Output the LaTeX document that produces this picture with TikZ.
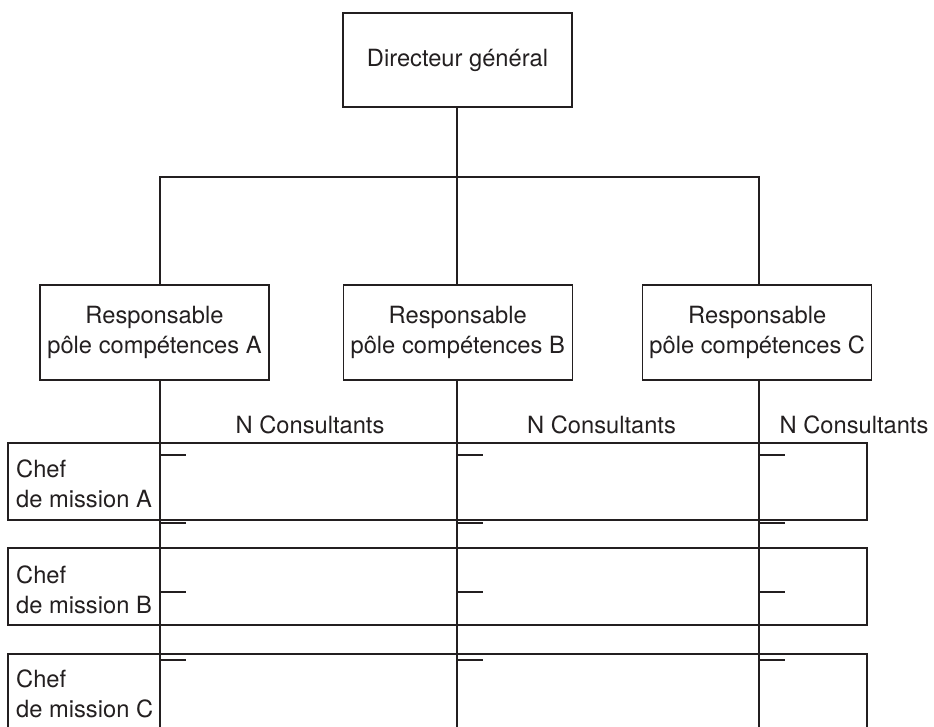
\documentclass[tikz,border=0pt]{standalone}
\usepackage{fontspec}
\setmainfont{TeX Gyre Heros}
\definecolor{ink}{HTML}{231F20}
\begin{document}
\begin{tikzpicture}[x=1pt,y=-1pt,
  every node/.style={font=\fontsize{23.7}{30}\selectfont, text=ink},
  line/.style={draw=ink, line width=1.1pt},
  orgbox/.style={draw=ink, line width=1.1pt, fill=white, inner sep=0pt, align=center, minimum width=229pt, minimum height=94pt},
  rowbox/.style={draw=ink, line width=1.1pt, inner sep=0pt, minimum width=859pt},
  chef/.style={anchor=base west, align=left, inner sep=0pt},
  cons/.style={anchor=base, inner sep=0pt},
  tick/.style={draw=ink, line width=1.1pt}]
\clip (0,0) rectangle (934,726);
\useasboundingbox (0,0) rectangle (934,726);
% top
\node[orgbox] (dg) at (457.5,60) {Directeur général};
% responsables
\node[orgbox, minimum height=95pt] (rA) at (154.5,332.5) {Responsable\\pôle compétences A};
\node[orgbox, minimum height=95pt] (rB) at (457.75,332.5) {Responsable\\pôle compétences B};
\node[orgbox, minimum height=95pt] (rC) at (757.25,332.5) {Responsable\\pôle compétences C};
% branch coordinates
\coordinate (hA) at (160,177);
\coordinate (hB) at (457,177);
\coordinate (hC) at (759,177);
\coordinate (eA) at (160,740);
\coordinate (eB) at (457,740);
\coordinate (eC) at (759,740);
% mission rows
\node[rowbox, minimum height=77pt] (rowA) at (437.5,481.5) {};
\node[rowbox, minimum height=77pt] (rowB) at (437.5,586.5) {};
\node[rowbox, minimum height=90pt] (rowC) at (437.5,699) {};
\node[chef] (cA) at (16,507) {Chef\\de mission A};
\node[chef] (cB) at (16,613) {Chef\\de mission B};
\node[chef] (cC) at (16,717) {Chef\\de mission C};
% consultants labels
\node[cons] (nA) at (310,433) {N Consultants};
\node[cons] (nB) at (601.5,433) {N Consultants};
\node[cons] (nC) at (854,433) {N Consultants};
% connectors
\draw[line] (dg.south -| hB) -- (hB);
\draw[line] (hA |- rA.north) -- (hA) -- (hC) -- (hC |- rC.north);
\draw[line] (hB) -- (hB |- rB.north);
\draw[line] (hA |- rA.south) -- (eA);
\draw[line] (hB |- rB.south) -- (eB);
\draw[line] (hC |- rC.south) -- (eC);
% ticks
\foreach \y in {455,523,592,660}{
  \foreach \c in {hA,hB,hC}{
    \coordinate (t) at (\c |- 0,\y);
    \draw[tick] (t) -- ++(26,0);
  }
}
\end{tikzpicture}
\end{document}
